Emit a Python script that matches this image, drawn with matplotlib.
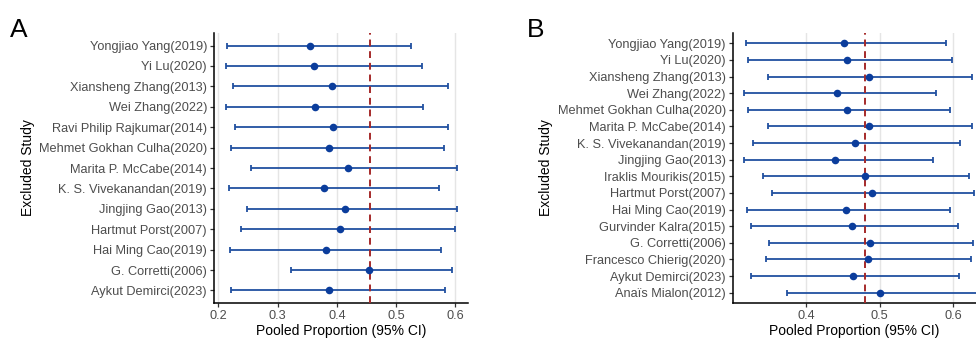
import matplotlib
matplotlib.use("Agg")
import matplotlib.pyplot as plt

plt.rcParams['font.family'] = ['Liberation Sans', 'DejaVu Sans']

# Panel A: leave-one-out sensitivity analysis
studies_a = ["Yongjiao Yang(2019)", "Yi Lu(2020)", "Xiansheng Zhang(2013)",
             "Wei Zhang(2022)", "Ravi Philip Rajkumar(2014)",
             "Mehmet Gokhan Culha(2020)", "Marita P. McCabe(2014)",
             "K. S. Vivekanandan(2019)", "Jingjing Gao(2013)",
             "Hartmut Porst(2007)", "Hai Ming Cao(2019)",
             "G. Corretti(2006)", "Aykut Demirci(2023)"]
est_a = [0.355, 0.361, 0.392, 0.363, 0.393, 0.386, 0.419, 0.379, 0.413,
         0.405, 0.382, 0.455, 0.387]
lo_a = [0.214, 0.213, 0.225, 0.213, 0.228, 0.221, 0.255, 0.218, 0.248,
        0.238, 0.219, 0.323, 0.221]
hi_a = [0.525, 0.543, 0.587, 0.546, 0.588, 0.581, 0.603, 0.572, 0.602,
        0.599, 0.576, 0.594, 0.582]
pooled_a = 0.456

# Panel B
studies_b = ["Yongjiao Yang(2019)", "Yi Lu(2020)", "Xiansheng Zhang(2013)",
             "Wei Zhang(2022)", "Mehmet Gokhan Culha(2020)",
             "Marita P. McCabe(2014)", "K. S. Vivekanandan(2019)",
             "Jingjing Gao(2013)", "Iraklis Mourikis(2015)",
             "Hartmut Porst(2007)", "Hai Ming Cao(2019)",
             "Gurvinder Kalra(2015)", "G. Corretti(2006)",
             "Francesco Chierig(2020)", "Aykut Demirci(2023)",
             "Anaïs Mialon(2012)"]
est_b = [0.451, 0.456, 0.486, 0.442, 0.455, 0.486, 0.466, 0.440, 0.480,
         0.490, 0.454, 0.463, 0.487, 0.484, 0.464, 0.501]
lo_b = [0.318, 0.321, 0.348, 0.316, 0.321, 0.349, 0.328, 0.316, 0.342,
        0.354, 0.320, 0.325, 0.350, 0.346, 0.326, 0.374]
hi_b = [0.590, 0.598, 0.625, 0.576, 0.596, 0.625, 0.609, 0.572, 0.621,
        0.628, 0.595, 0.606, 0.626, 0.624, 0.608, 0.640]
pooled_b = 0.480

xticks_a = [0.2, 0.3, 0.4, 0.5, 0.6]
xticks_b = [0.4, 0.5, 0.6]

W, H = 976, 338
fig = plt.figure(figsize=(W / 100, H / 100), dpi=100)


def forest(ax, studies, est, lo, hi, pooled, xlim, xticks):
    n = len(studies)
    y = [n - 1 - i for i in range(n)]
    for xt in xticks:
        ax.axvline(xt, color="#e5e5e5", lw=1.0, zorder=0)
    xerr = [[e - l for e, l in zip(est, lo)], [h - e for e, h in zip(est, hi)]]
    ax.errorbar(est, y, xerr=xerr, fmt="none", ecolor="#2150a0",
                elinewidth=1.3, capsize=2.2, capthick=1.3, zorder=2)
    ax.scatter(est, y, s=30, color="#0b3d9c", zorder=4, linewidths=0)
    ax.axvline(pooled, color="#a52a2a", lw=1.4, ls=(0, (3.5, 2.5)), zorder=3)
    ax.set_xlim(*xlim)
    ax.set_ylim(-0.6, n - 1 + 0.6)
    ax.set_yticks(y)
    ax.set_yticklabels(studies)
    ax.set_xticks(xticks)
    ax.set_xticklabels([f"{t:g}" for t in xticks])
    for s in ["top", "right"]:
        ax.spines[s].set_visible(False)
    for s in ["left", "bottom"]:
        ax.spines[s].set_linewidth(1.1)
        ax.spines[s].set_color("black")
    ax.tick_params(axis="both", length=3, width=0.9, color="#333333",
                   labelcolor="#4d4d4d", labelsize=9.2, pad=2)
    ax.set_xlabel("Pooled Proportion (95% CI)", fontsize=10, labelpad=2)
    ax.set_ylabel("Excluded Study", fontsize=10, labelpad=3)


def px_axes(left, right, top, bottom):
    return fig.add_axes([left / W, (H - bottom) / H, (right - left) / W,
                         (bottom - top) / H])


ax_a = px_axes(214, 468.3, 33.3, 302.7)
forest(ax_a, studies_a, est_a, lo_a, hi_a, pooled_a, (0.1928, 0.6216), xticks_a)

ax_b = px_axes(732.7, 976, 33.3, 302.7)
forest(ax_b, studies_b, est_b, lo_b, hi_b, pooled_b, (0.3005, 0.6307), xticks_b)

fig.text(10 / W, (H - 37) / H, "A", fontsize=19, ha="left", va="baseline")
fig.text(527 / W, (H - 37) / H, "B", fontsize=19, ha="left", va="baseline")

fig.savefig("out.png", dpi=100)
